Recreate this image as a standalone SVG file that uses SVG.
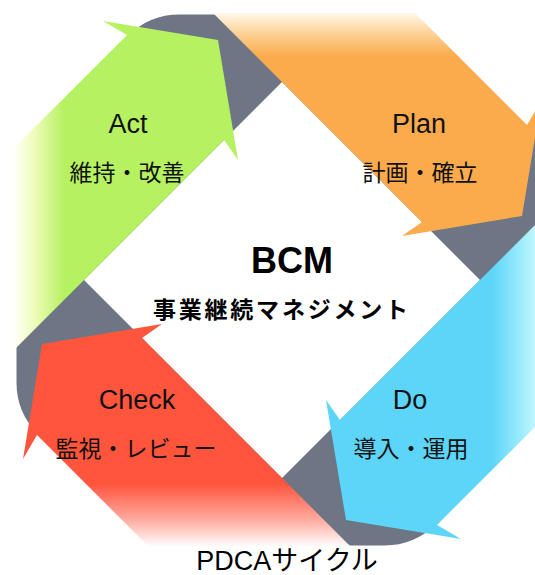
<svg xmlns="http://www.w3.org/2000/svg" width="535" height="575" viewBox="0 0 535 575">
<style>
.lat{font-family:"Liberation Sans","Noto Sans CJK JP",sans-serif;font-size:27px;fill:#111;text-anchor:middle}
.jp{font-family:"Noto Sans CJK JP","Liberation Sans",sans-serif;font-size:23px;fill:#111;text-anchor:middle}
.bcm{font-family:"Liberation Sans",sans-serif;font-size:36px;font-weight:bold;fill:#000;text-anchor:middle}
.sub{font-family:"Noto Sans CJK JP",sans-serif;font-size:23px;font-weight:bold;fill:#000}
.ttl{font-family:"Liberation Sans","Noto Sans CJK JP",sans-serif;font-size:27px;fill:#000;text-anchor:middle}
</style>
<defs>
<polygon id="arrow" points="15,349 15,147 127,35 103,21 218,40 238,160 224,140"/>
<linearGradient id="gGreen" gradientUnits="userSpaceOnUse" x1="15" y1="0" x2="64" y2="0">
<stop offset="0" stop-color="#fffff4"/><stop offset="0.4" stop-color="#eefcb8"/><stop offset="1" stop-color="#b6f162"/>
</linearGradient>
<linearGradient id="gOrange" gradientUnits="userSpaceOnUse" x1="15" y1="0" x2="58" y2="0">
<stop offset="0" stop-color="#fff8ec"/><stop offset="0.45" stop-color="#fdd49a"/><stop offset="1" stop-color="#fbab4c"/>
</linearGradient>
<linearGradient id="gBlue" gradientUnits="userSpaceOnUse" x1="15" y1="0" x2="72" y2="0">
<stop offset="0" stop-color="#eaffff"/><stop offset="0.4" stop-color="#a8f0fc"/><stop offset="1" stop-color="#5dd5f9"/>
</linearGradient>
<linearGradient id="gRed" gradientUnits="userSpaceOnUse" x1="15" y1="0" x2="78" y2="0">
<stop offset="0" stop-color="#ffffff"/><stop offset="0.45" stop-color="#ffa89c"/><stop offset="1" stop-color="#ff553d"/>
</linearGradient>
</defs>

<g id="connectors">
<path fill="#6e7584" d="M16.5,147.5 L128.3,35.7 Q149.5,14.5 179.5,14.5 L414.5,14.5 L526.3,126.3 Q547.5,147.5 547.5,177.5 L547.5,412.5 L435.7,524.3 Q414.5,545.5 384.5,545.5 L149.5,545.5 L37.7,433.7 Q16.5,412.5 16.5,382.5 Z"/>
</g>

<g id="bcm">
<polygon fill="#fff" points="282,82 480,280 282,478 84,280"/>
<text class="bcm" x="292" y="273">BCM</text>
<text class="sub" x="153" y="318" textLength="255" lengthAdjust="spacing">事業継続マネジメント</text>
</g>

<g id="act">
<use href="#arrow" fill="url(#gGreen)"/>
<text class="lat" x="128" y="133">Act</text>
<text class="jp" x="127" y="181">維持・改善</text>
</g>

<g id="plan">
<use href="#arrow" fill="url(#gOrange)" transform="rotate(90 282 280)"/>
<text class="lat" x="419" y="133">Plan</text>
<text class="jp" x="420" y="181">計画・確立</text>
</g>

<g id="do">
<use href="#arrow" fill="url(#gBlue)" transform="rotate(180 282 280)"/>
<text class="lat" x="410" y="409">Do</text>
<text class="jp" x="411" y="457">導入・運用</text>
</g>

<g id="check">
<use href="#arrow" fill="url(#gRed)" transform="rotate(270 282 280)"/>
<text class="lat" x="137" y="409">Check</text>
<text class="jp" x="136" y="457">監視・レビュー</text>
</g>

<g id="title">
<text class="ttl" x="287" y="570">PDCAサイクル</text>
</g>
</svg>
